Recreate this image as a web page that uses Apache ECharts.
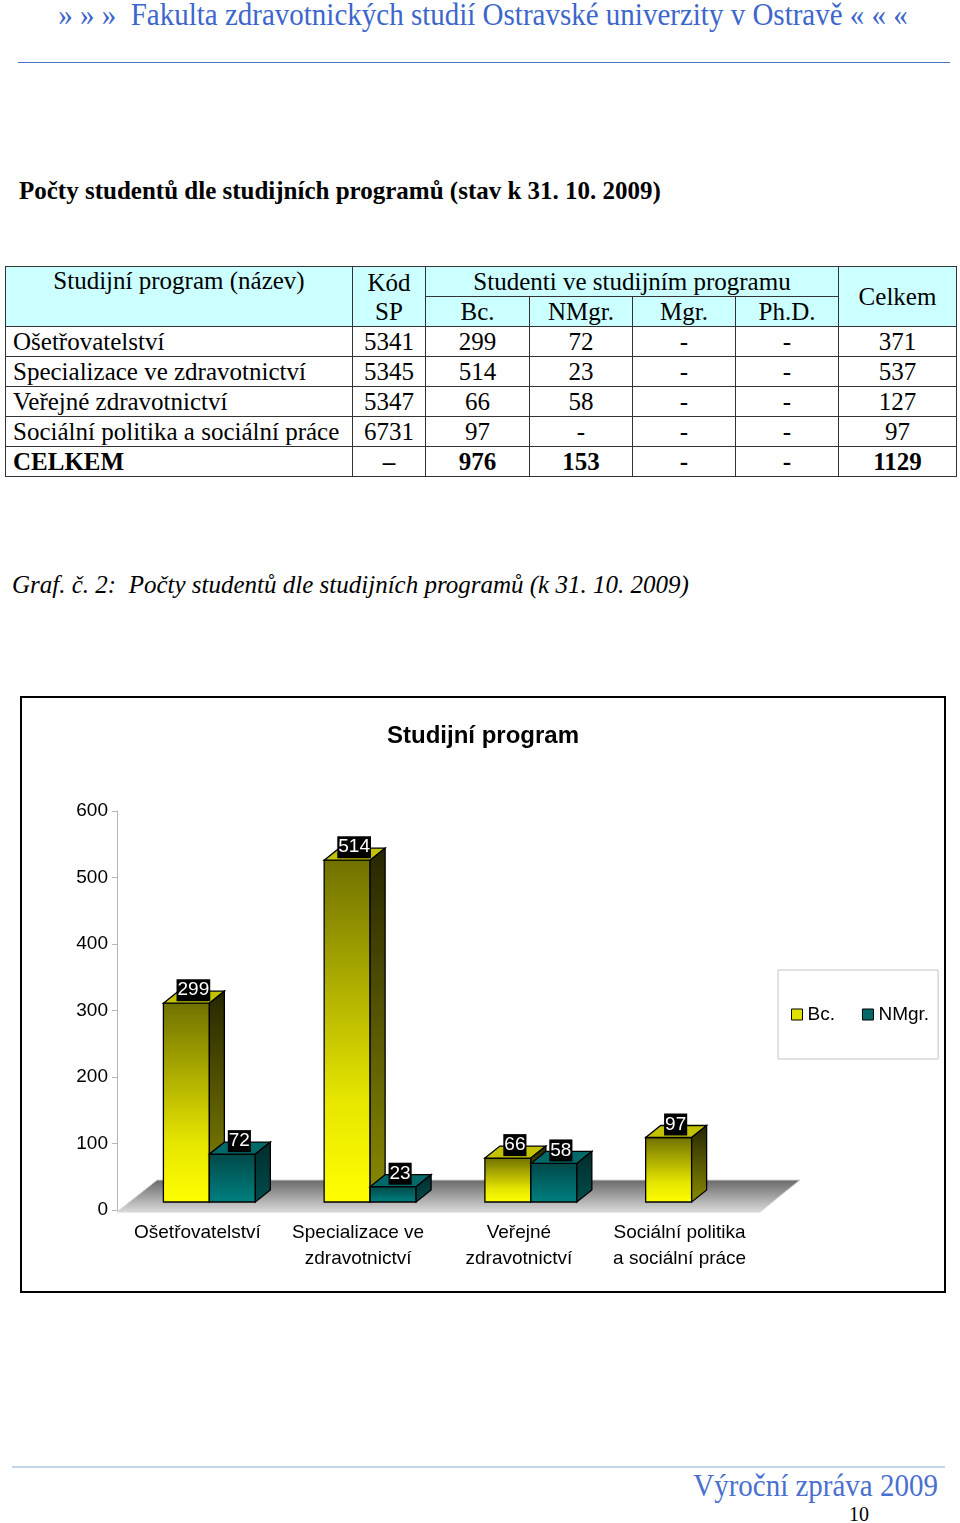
<!DOCTYPE html>
<html>
<head>
<meta charset="utf-8">
<script src="https://cdn.jsdelivr.net/npm/echarts@6/dist/echarts.min.js"></script>
<style>
  body { margin: 0; background: #fff; }
  #page { position: relative; width: 960px; height: 1523px; overflow: hidden; font-family: "Liberation Serif", serif; }
  .abs { position: absolute; white-space: nowrap; }
  #head { left: 0; width: 966px; top: -3px; text-align: center; font-size: 29px; line-height: 30px; color: #3d66cc; transform: scaleY(1.1); transform-origin: top; }
  #headLine { left: 18px; top: 62px; width: 932px; height: 0; border-top: 1px solid #4a74c8; }
  #tblTitle { left: 19px; top: 177px; font-size: 25px; font-weight: bold; line-height: 28px; }
  #tbl { left: 5px; top: 266px; border-collapse: collapse; font-size: 25px; table-layout: fixed; }
  #tbl td { border: 1px solid #333; padding: 0; text-align: center; line-height: 27px; height: 29px; }
  #tbl .hd { background: #ccffff; }
  #tbl td.nm { text-align: left; padding-left: 7px; }
  #tbl tr.sum td { font-weight: bold; }
  #caption { left: 12px; top: 571px; font-size: 25px; font-style: italic; line-height: 28px; }
  #chartBox { left: 20px; top: 696px; width: 926px; height: 597px; box-sizing: border-box; border: 2px solid #000; }
  #chart { position: absolute; left: 0; top: 0; width: 922px; height: 593px; }
  #footLine { left: 12px; top: 1466px; width: 933px; height: 0; border-top: 2px solid #c2d3ea; }
  #footText { right: 22px; top: 1469px; font-size: 29px; line-height: 30px; color: #4a6fd0; transform: scaleY(1.08); transform-origin: top; }
  #pageNo { left: 849px; top: 1503px; font-size: 20px; line-height: 22px; }
</style>
</head>
<body>
<div id="page">
  <div id="head" class="abs">» » »&nbsp; Fakulta zdravotnických studií Ostravské univerzity v Ostravě « « «</div>
  <div id="headLine" class="abs"></div>
  <div id="tblTitle" class="abs">Počty studentů dle studijních programů (stav k 31. 10. 2009)</div>
  <table id="tbl" class="abs"></table>
  <div id="caption" class="abs">Graf. č. 2:&nbsp; Počty studentů dle studijních programů (k 31. 10. 2009)</div>
  <div id="chartBox" class="abs"><div id="chart"></div></div>
  <div id="footLine" class="abs"></div>
  <div id="footText" class="abs">Výroční zpráva 2009</div>
  <div id="pageNo" class="abs">10</div>
</div>
<script>
// table data
const programNames = ['Ošetřovatelství', 'Specializace ve zdravotnictví', 'Veřejné zdravotnictví', 'Sociální politika a sociální práce'];
const programCodes = ['5341', '5345', '5347', '6731'];
const bcCol = ['299', '514', '66', '97'];
const nmgrCol = ['72', '23', '58', '-'];
const mgrCol = ['-', '-', '-', '-'];
const phdCol = ['-', '-', '-', '-'];
const totalCol = ['371', '537', '127', '97'];
const sumRow = ['CELKEM', '–', '976', '153', '-', '-', '1129'];

// chart data
const categories = ['Ošetřovatelství', 'Specializace ve\nzdravotnictví', 'Veřejné\nzdravotnictví', 'Sociální politika\na sociální práce'];
const bcValues = [299, 514, 66, 97];
const nmgrValues = [72, 23, 58, null];
const yTicks = [0, 100, 200, 300, 400, 500, 600];

// build the table
const colW = [347, 73, 104, 103, 103, 103, 118];
let html = '<colgroup>' + colW.map(w => '<col style="width:' + w + 'px">').join('') + '</colgroup>';
html += '<tr class="hd"><td class="hd" rowspan="2" style="vertical-align:top">Studijní program (název)</td>' +
  '<td class="hd" rowspan="2" style="line-height:29px">Kód<br>SP</td>' +
  '<td class="hd" colspan="4">Studenti ve studijním programu</td>' +
  '<td class="hd" rowspan="2">Celkem</td></tr>';
html += '<tr><td class="hd">Bc.</td><td class="hd">NMgr.</td><td class="hd">Mgr.</td><td class="hd">Ph.D.</td></tr>';
programNames.forEach((n, i) => {
  html += '<tr><td class="nm">' + n + '</td><td>' + programCodes[i] + '</td><td>' + bcCol[i] + '</td><td>' +
    nmgrCol[i] + '</td><td>' + mgrCol[i] + '</td><td>' + phdCol[i] + '</td><td>' + totalCol[i] + '</td></tr>';
});
html += '<tr class="sum">' + sumRow.map((v, i) => '<td' + (i === 0 ? ' class="nm"' : '') + '>' + v + '</td>').join('') + '</tr>';
document.getElementById('tbl').innerHTML = html;

// 3D look
const DX = 15, DY = -12;          // bar depth
const SHIFT_X = 12, SHIFT_Y = -8; // bars stand in the middle of the floor
const FLOOR_X = 40, FLOOR_Y = -32;
const LG = echarts.graphic.LinearGradient;

const faces = [
  {
    front: new LG(0, 0, 0, 1, [{ offset: 0, color: '#707000' }, { offset: 0.7, color: '#e6e600' }, { offset: 1, color: '#ffff00' }]),
    top: '#c2c200',
    side: new LG(0, 0, 0, 1, [{ offset: 0, color: '#262600' }, { offset: 1, color: '#8a8a00' }]),
  },
  {
    front: new LG(0, 0, 0, 1, [{ offset: 0, color: '#004848' }, { offset: 1, color: '#008080' }]),
    top: '#006a6a',
    side: new LG(0, 0, 0, 1, [{ offset: 0, color: '#002c2c' }, { offset: 1, color: '#004c4c' }]),
  },
];

function barRenderer (slot) {
  return function (params, api) {
    const value = api.value(1);
    if (value == null || isNaN(value)) return null;
    const cat = api.value(0);
    const base = api.coord([cat, 0]);
    const top = api.coord([cat, value]);
    const w = api.size([1, 0])[0] * 0.286;
    const x0 = base[0] + SHIFT_X - w + slot * w;
    const x1 = x0 + w;
    const yb = base[1] + SHIFT_Y;
    const yt = top[1] + SHIFT_Y;
    const f = faces[slot];
    const line = { stroke: '#000', lineWidth: 1.3 };
    return {
      type: 'group',
      children: [
        { type: 'rect', shape: { x: x0, y: yt, width: w, height: yb - yt }, style: Object.assign({ fill: f.front }, line) },
        { type: 'polygon', shape: { points: [[x0, yt], [x0 + DX, yt + DY], [x1 + DX, yt + DY], [x1, yt]] }, style: Object.assign({ fill: f.top }, line) },
        { type: 'polygon', shape: { points: [[x1, yt], [x1 + DX, yt + DY], [x1 + DX, yb + DY], [x1, yb]] }, style: Object.assign({ fill: f.side }, line) },
        {
          type: 'text',
          x: x0 + w / 2 + 7,
          y: yt - 13,
          z2: 10,
          style: {
            text: String(value),
            fill: '#fff',
            backgroundColor: '#000',
            padding: [2, 1, 1, 1],
            font: '19px "Liberation Sans", Arial, sans-serif',
            align: 'center',
            verticalAlign: 'middle',
          },
        },
      ],
    };
  };
}

const chart = echarts.init(document.getElementById('chart'));
chart.setOption({
  animation: false,
  textStyle: { fontFamily: '"Liberation Sans", Arial, sans-serif' },
  title: {
    text: 'Studijní program',
    left: 'center',
    top: 21,
    textStyle: { fontSize: 24, fontWeight: 'bold', color: '#000' },
  },
  legend: {
    left: 756,
    top: 272,
    padding: [35, 9, 35, 13],
    borderColor: '#c4c4c4',
    borderWidth: 1,
    itemWidth: 11,
    itemHeight: 11,
    itemGap: 27,
    icon: 'rect',
    textStyle: { fontSize: 19, color: '#000' },
    data: [
      { name: 'Bc.', itemStyle: { color: '#e0e000', borderColor: '#000', borderWidth: 1 } },
      { name: 'NMgr.', itemStyle: { color: '#006868', borderColor: '#000', borderWidth: 1 } },
    ],
  },
  grid: { left: 95, top: 113, width: 643, height: 399 },
  xAxis: {
    type: 'category',
    data: categories,
    axisLine: { lineStyle: { color: '#cfcfcf' } },
    axisTick: { length: 5, lineStyle: { color: '#bdbdbd' } },
    axisLabel: { interval: 0, fontSize: 19, color: '#000', lineHeight: 26, margin: 10 },
  },
  yAxis: {
    type: 'value',
    min: yTicks[0],
    max: yTicks[yTicks.length - 1],
    interval: 100,
    axisLine: { show: true, lineStyle: { color: '#b5b5b5' } },
    axisTick: { show: true, length: 5, lineStyle: { color: '#b5b5b5' } },
    axisLabel: { fontSize: 19, color: '#000', margin: 9 },
    splitLine: { show: false },
  },
  series: [
    {
      name: 'floor',
      type: 'custom',
      silent: true,
      z: 1,
      data: [[0, 0]],
      renderItem: function (params, api) {
        const cs = params.coordSys;
        const y0 = api.coord([0, 0])[1] + 2;
        const xl = cs.x, xr = cs.x + cs.width;
        return {
          type: 'polygon',
          shape: { points: [[xl, y0], [xl + FLOOR_X, y0 + FLOOR_Y], [xr + FLOOR_X, y0 + FLOOR_Y], [xr, y0]] },
          style: {
            fill: new LG(0, 0, 0, 1, [{ offset: 0, color: '#686868' }, { offset: 1, color: '#dadada' }]),
            stroke: '#d4d4d4',
            lineWidth: 1,
          },
        };
      },
    },
    {
      name: 'Bc.',
      type: 'custom',
      z: 2,
      itemStyle: { color: '#e0e000' },
      data: bcValues.map((v, i) => [i, v]),
      renderItem: barRenderer(0),
    },
    {
      name: 'NMgr.',
      type: 'custom',
      z: 3,
      itemStyle: { color: '#006868' },
      data: nmgrValues.map((v, i) => [i, v]),
      renderItem: barRenderer(1),
    },
  ],
});
</script>
</body>
</html>
